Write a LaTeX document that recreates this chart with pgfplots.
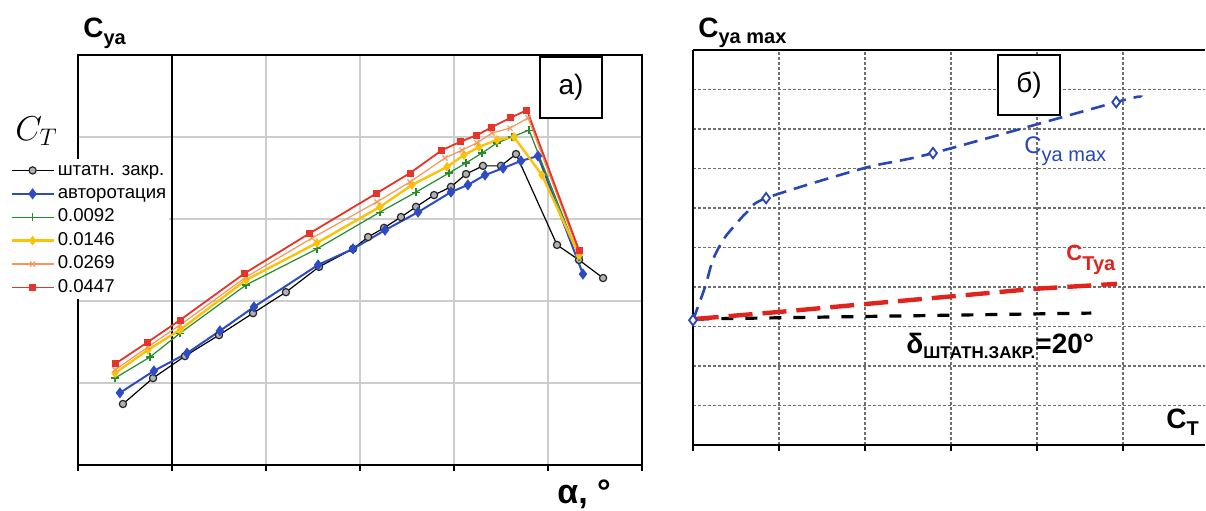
\documentclass[border=0pt]{standalone}
\usepackage{fontspec}
\setmainfont{Liberation Sans}
\usepackage{pgfplots}
\pgfplotsset{compat=1.18}
\definecolor{cblue}{RGB}{45,75,195}
\definecolor{cgreen}{RGB}{35,140,45}
\definecolor{cyellow}{RGB}{250,195,10}
\definecolor{corange}{RGB}{245,150,90}
\definecolor{cred}{RGB}{232,52,40}
\definecolor{bblue}{RGB}{40,70,180}
\definecolor{bred}{RGB}{225,35,30}
\definecolor{gridg}{RGB}{205,205,205}
\definecolor{gridd}{RGB}{110,110,110}
\begin{document}
\begin{tikzpicture}
\path[use as bounding box] (0,0) rectangle (603pt,255pt);
% ---------------- panel a ----------------
\begin{axis}[
  at={(39pt,22.5pt)}, anchor=south west,
  scale only axis, width=282pt, height=205pt,
  xmin=-5, xmax=25, ymin=0, ymax=1.25,
  xtick={-5,0,...,25}, ytick={0,0.25,...,1.25},
  xticklabels={}, yticklabels={},
  xtick pos=left, xtick align=outside, major tick length=3pt,
  y tick style={draw=none},
  x tick style={black, line width=1.2pt},
  grid=major, grid style={gridg, line width=0.6pt},
  axis line style={line width=1.2pt},
  extra x ticks={0}, extra x tick labels={},
  extra x tick style={major grid style={black, line width=1pt}},
  clip=false,
  legend style={at={(-0.1206,0.748)}, anchor=north west, draw=none, fill=white,
    inner sep=0pt, row sep=0pt,
    nodes={text height=6.7pt, text depth=2pt, inner sep=1.5pt},
    font=\fontsize{9.3}{10}\selectfont},
  legend cell align=left,
  legend image code/.code={\draw[mark repeat=2,mark phase=2] plot coordinates {(0pt,0pt) (10.5pt,0pt) (21pt,0pt)};},
]
\addplot[black, line width=0.6pt, mark=*, mark size=1.8pt, mark options={fill=gray!60, draw=black!85}] coordinates {
(-2.61,0.186) (-1.01,0.265) (0.69,0.332) (2.50,0.396) (4.31,0.463) (6.06,0.527) (7.82,0.604) (9.63,0.659) (10.43,0.695) (11.28,0.723) (12.18,0.756) (12.98,0.787) (13.94,0.823) (14.84,0.848) (15.64,0.887) (16.54,0.912) (17.50,0.912) (18.30,0.948) (20.48,0.671) (21.65,0.625) (22.93,0.570)};
\addlegendentry{штатн. закр.}
\addplot[cblue, line width=1pt, mark=diamond*, mark size=2pt] coordinates {
(-2.77,0.220) (-0.96,0.287) (0.80,0.341) (2.55,0.409) (4.36,0.482) (7.77,0.610) (9.63,0.659) (11.33,0.716) (13.09,0.771) (14.84,0.832) (15.74,0.854) (16.65,0.884) (17.61,0.905) (18.56,0.927) (19.47,0.942) (21.86,0.582)};
\addlegendentry{авторотация}
\addplot[cgreen, line width=0.6pt, mark=+, mark size=2pt] coordinates {
(-3.03,0.265) (-1.17,0.329) (0.43,0.402) (3.94,0.549) (7.71,0.659) (11.06,0.771) (12.98,0.832) (14.73,0.890) (15.64,0.921) (16.49,0.951) (17.29,0.982) (18.09,1.000) (18.99,1.021) (21.65,0.634)};
\addlegendentry{0.0092}
\addplot[cyellow, line width=1.2pt, mark=diamond*, mark size=1.5pt] coordinates {
(-3.03,0.280) (-1.28,0.351) (0.43,0.412) (3.94,0.564) (7.71,0.677) (11.06,0.787) (12.77,0.854) (14.63,0.909) (15.53,0.945) (16.33,0.970) (17.29,0.991) (18.19,1.000) (19.68,0.884) (21.65,0.640)};
\addlegendentry{0.0146}
\addplot[corange, line width=0.6pt, mark=x, mark size=1.8pt] coordinates {
(-3.03,0.290) (-1.28,0.360) (0.43,0.427) (3.94,0.573) (7.45,0.692) (10.90,0.802) (12.66,0.863) (14.52,0.936) (15.43,0.960) (16.22,0.982) (17.02,1.012) (17.98,1.027) (18.94,1.058) (21.65,0.646)};
\addlegendentry{0.0269}
\addplot[cred, line width=0.9pt, mark=square*, mark size=1.3pt] coordinates {
(-3.03,0.308) (-1.28,0.375) (0.43,0.442) (3.88,0.585) (7.34,0.707) (10.90,0.829) (12.66,0.890) (14.36,0.960) (15.32,0.985) (16.22,1.006) (17.02,1.030) (17.98,1.058) (18.88,1.082) (21.65,0.655)};
\addlegendentry{0.0447}
\end{axis}
% ---------------- panel b ----------------
\begin{axis}[
  at={(346.5pt,32.5pt)}, anchor=south west,
  scale only axis, width=255.9pt, height=197.5pt,
  xmin=0, xmax=5.95, ymin=0, ymax=10,
  xtick={0,...,5}, ytick={0,...,10},
  xticklabels={}, yticklabels={},
  axis x line=box, axis y line=left,
  every non boxed y axis/.append style={y axis line style={-}},
  every non boxed x axis/.append style={x axis line style={-}},
  axis line style={-, line width=1.2pt},
  xtick pos=left, xtick align=outside, major tick length=3pt,
  x tick style={black, line width=1pt},
  y tick style={draw=none},
  grid=major, grid style={gridd, line width=0.6pt, dash pattern=on 1.5pt off 1pt},
  clip=false,
]
\addplot[black, line width=1.6pt, dash pattern=on 6pt off 6pt] coordinates {(0.05,3.19) (4.63,3.34)};
\addplot[bred, line width=2.2pt, dash pattern=on 12pt off 5pt] coordinates {
(0.02,3.19) (1.01,3.37) (2.01,3.57) (2.94,3.75) (3.95,3.95) (4.93,4.08)};
\addplot[bblue, line width=1.3pt, dash pattern=on 7pt off 4pt, smooth] coordinates {
(0,3.16) (0.14,4.0) (0.23,4.68) (0.35,5.19) (0.47,5.52) (0.63,5.9) (0.85,6.25) (1.99,7.01) (2.79,7.39) (4.92,8.68) (5.19,8.81)};
\addplot[bblue, only marks, mark=diamond*, mark size=2.6pt, mark options={fill=white, line width=0.9pt, solid}] coordinates {
(0,3.16) (0.85,6.25) (2.79,7.39) (4.92,8.68)};
\end{axis}
% ---------------- labels ----------------
\node[anchor=base west, inner sep=0] at (41.5pt,236.5pt) {\fontsize{14}{14}\selectfont\bfseries C\raisebox{-3.5pt}{\fontsize{10}{10}\selectfont ya}};
\node[anchor=base west, inner sep=0] at (278.5pt,3.5pt) {\fontsize{17}{17}\selectfont\bfseries α, °};
\node[anchor=base west, inner sep=0] at (7.5pt,185pt) {\fontsize{18}{18}\selectfont $C_T$};
\node[draw, line width=1pt, minimum width=31pt, minimum height=30.5pt, inner sep=0, fill=white, font=\fontsize{14}{14}\selectfont] at (285.5pt,211.25pt) {а)};
\node[anchor=base west, inner sep=0] at (349pt,236pt) {\fontsize{14}{14}\selectfont\bfseries C\raisebox{-2.5pt}{\fontsize{10}{10}\selectfont ya max}};
\node[anchor=base west, inner sep=0] at (583pt,41pt) {\fontsize{14}{14}\selectfont\bfseries C\raisebox{-3.5pt}{\fontsize{10}{10}\selectfont T}};
\node[draw, line width=1pt, minimum width=31pt, minimum height=30pt, inner sep=0, fill=white, font=\fontsize{14}{14}\selectfont] at (514.5pt,212.5pt) {б)};
\node[anchor=base west, inner sep=0, text=bblue] at (512pt,178.5pt) {\fontsize{12}{12}\selectfont C\raisebox{-4pt}{\fontsize{10}{10}\selectfont ya max}};
\node[anchor=base west, inner sep=0, text=bred] at (533pt,125pt) {\fontsize{11}{11}\selectfont\bfseries C\raisebox{-5pt}{\fontsize{10}{10}\selectfont Tya}};
\node[anchor=base west, inner sep=0] at (453pt,78.5pt) {\fontsize{14}{14}\selectfont\bfseries δ\raisebox{-2.5pt}{\fontsize{8.5}{8.5}\selectfont ШТАТН.ЗАКР.}=20°};
\end{tikzpicture}
\end{document}
